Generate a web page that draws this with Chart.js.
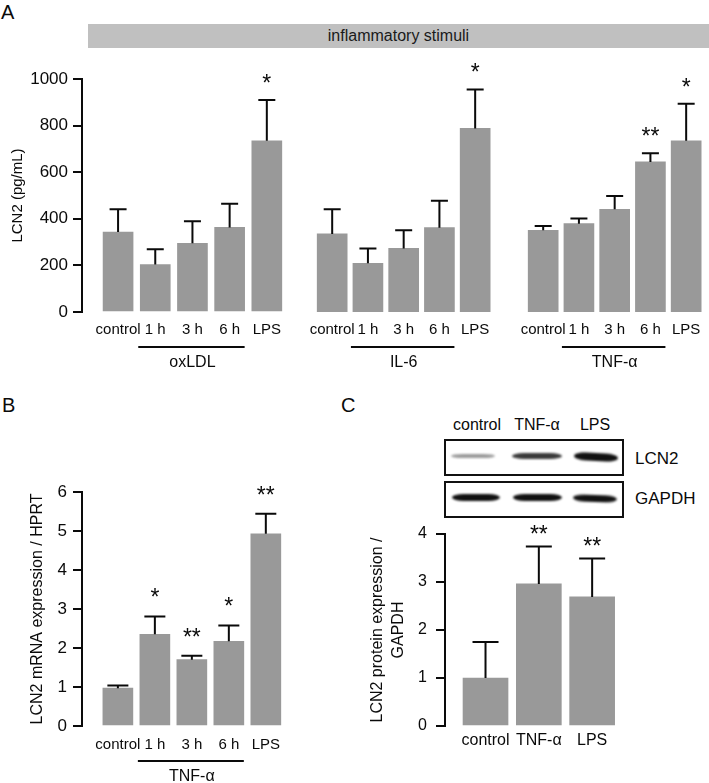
<!DOCTYPE html>
<html>
<head>
<meta charset="utf-8">
<script src="https://cdn.jsdelivr.net/npm/chart.js@4.4.0/dist/chart.umd.min.js"></script>
<style>
  body { margin: 0; background: #fff; }
  #fig { position: relative; width: 709px; height: 783px; overflow: hidden;
         font-family: "Liberation Sans", Arial, sans-serif; color: #0a0a0a; }
  canvas { position: absolute; }
  .t { position: absolute; white-space: nowrap; line-height: 1; }
  .c { transform: translate(-50%, -50%); }
  .m { transform: translateY(-50%); }
  .box { position: absolute; box-sizing: border-box; border: 2px solid #111; background: #fff; }
  .band { position: absolute; border-radius: 12px / 50%; filter: blur(0.8px); }
</style>
</head>
<body>
<div id="fig">
  <div class="t" style="left:1px;top:2px;font-size:20px">A</div>
  <div class="t" style="left:2px;top:395px;font-size:20px">B</div>
  <div class="t" style="left:341px;top:395px;font-size:20px">C</div>

  <div style="position:absolute;left:88px;top:24px;width:621px;height:24px;background:#c0c0c0;
              text-align:center;line-height:24px;font-size:16px;color:#1a1a1a">inflammatory stimuli</div>

  <canvas id="a1" width="290" height="380" style="left:0;top:0"></canvas>
  <canvas id="a2" width="198" height="380" style="left:300px;top:0"></canvas>
  <canvas id="a3" width="198" height="380" style="left:511px;top:0"></canvas>
  <canvas id="b" width="290" height="343" style="left:0;top:440px"></canvas>

  <!-- western blot -->
  <div id="lanes"></div>
  <div class="box" style="left:444px;top:439px;width:180px;height:37px"></div>
  <div class="box" style="left:444px;top:481px;width:180px;height:37px"></div>
  <div class="band" style="left:451px;top:454px;width:44px;height:4px;background:#9a9a9a"></div>
  <div class="band" style="left:512px;top:453px;width:50px;height:6px;background:#3a3a3a"></div>
  <div class="band" style="left:574px;top:453px;width:44px;height:8px;background:#111;transform:rotate(3deg)"></div>
  <div class="band" style="left:452px;top:494px;width:48px;height:7px;background:#111"></div>
  <div class="band" style="left:513px;top:494px;width:49px;height:7px;background:#111"></div>
  <div class="band" style="left:573px;top:495px;width:44px;height:7px;background:#111;transform:rotate(2deg)"></div>
  <div class="t m" style="left:635px;top:458px;font-size:17px">LCN2</div>
  <div class="t m" style="left:635px;top:498px;font-size:17px">GAPDH</div>

  <canvas id="c" width="270" height="283" style="left:360px;top:500px"></canvas>
</div>

<script>
// panel A: LCN2 secretion (pg/mL)
const timeLabels = ['control', '1 h', '3 h', '6 h', 'LPS'];
const stimuli = ['oxLDL', 'IL-6', 'TNF-α'];

const oxldlMean = [343, 204, 295, 363, 735];
const oxldlSd = [98, 65, 95, 102, 175];
const oxldlStars = ['', '', '', '', '*'];

const il6Mean = [335, 209, 273, 362, 788];
const il6Sd = [106, 64, 78, 116, 167];
const il6Stars = ['', '', '', '', '*'];

const tnfMean = [351, 379, 441, 644, 735];
const tnfSd = [18, 22, 57, 37, 159];
const tnfStars = ['', '', '', '**', '*'];

// panel B: mRNA / HPRT after TNF-α
const mrnaMean = [0.97, 2.35, 1.70, 2.17, 4.93];
const mrnaSd = [0.07, 0.46, 0.10, 0.41, 0.51];
const mrnaStars = ['', '*', '**', '*', '**'];

// panel C: protein / GAPDH
const proteinLabels = ['control', 'TNF-α', 'LPS'];
const proteinMean = [1.0, 2.96, 2.69];
const proteinSd = [0.75, 0.78, 0.80];
const proteinStars = ['', '**', '**'];

const FONT = '"Liberation Sans", Arial, sans-serif';
const INK = '#0a0a0a';
const BAR = '#999999';
Chart.defaults.font.family = FONT;
Chart.defaults.color = INK;

// blot lane headers
const laneX = [477, 537, 595];
document.getElementById('lanes').innerHTML = proteinLabels.map((l, i) =>
  `<div class="t c" style="left:${laneX[i]}px;top:425px;font-size:16px">${l}</div>`).join('');

// error bars, stars and the group underline
const markers = {
  id: 'markers',
  afterDatasetsDraw(chart, args, o) {
    const ctx = chart.ctx;
    const y = chart.scales.y;
    const area = chart.chartArea;
    const bars = chart.getDatasetMeta(0).data;
    const pts = chart.data.datasets[0].data;
    ctx.save();
    ctx.strokeStyle = INK;
    ctx.fillStyle = INK;
    ctx.lineWidth = 2;
    bars.forEach((bar, i) => {
      const top = y.getPixelForValue(pts[i].y + o.sd[i]);
      ctx.beginPath();
      ctx.moveTo(bar.x, bar.y);
      ctx.lineTo(bar.x, top);
      ctx.moveTo(bar.x - o.cap / 2, top);
      ctx.lineTo(bar.x + o.cap / 2, top);
      ctx.stroke();
      if (o.stars[i]) {
        ctx.font = o.starSize + 'px ' + FONT;
        ctx.textAlign = 'center';
        ctx.textBaseline = 'alphabetic';
        ctx.fillText(o.stars[i], bar.x, top - o.starGap);
      }
    });
    if (o.group) {
      const half = bars[1].width / 2;
      const ly = area.bottom + 35;
      ctx.beginPath();
      ctx.moveTo(bars[1].x - half - 2, ly);
      ctx.lineTo(bars[3].x + half, ly);
      ctx.stroke();
      ctx.font = '16px ' + FONT;
      ctx.textAlign = 'center';
      ctx.textBaseline = 'middle';
      ctx.fillText(o.group, bars[2].x, area.bottom + 51);
    }
    ctx.restore();
  }
};

function makeChart(id, p) {
  const yAxis = {
    display: !!p.yTitle,
    min: 0, max: p.yMax,
    ticks: { stepSize: p.yStep, padding: p.yPad || 0, font: { size: p.yFont }, color: INK,
             callback: v => String(v) },
    grid: { drawOnChartArea: false, drawTicks: true, tickLength: 9, lineWidth: 2, color: INK },
    border: { display: true, width: 2, color: INK }
  };
  if (p.yTitle) {
    yAxis.title = {
      display: true, text: p.yTitle, color: INK,
      font: { size: p.titleSize, lineHeight: p.titleLH },
      padding: { top: p.titlePad, bottom: 0 }
    };
    yAxis.afterFit = s => { s.width = p.yW; };
  }
  return new Chart(document.getElementById(id), {
    type: 'bar',
    data: {
      datasets: [{
        data: p.means.map((v, i) => ({ x: i, y: v })),
        backgroundColor: BAR,
        barThickness: p.barW
      }]
    },
    options: {
      responsive: false,
      animation: false,
      events: [],
      layout: { padding: { top: p.padTop, bottom: p.padBottom, left: p.padLeft || 0, right: 0 } },
      plugins: {
        legend: { display: false },
        tooltip: { enabled: false },
        markers: { sd: p.sd, stars: p.stars, cap: p.cap, starGap: p.starGap,
                   starSize: p.starSize || 23, group: p.group || null }
      },
      scales: {
        x: {
          type: 'linear', offset: false, min: p.xMin, max: p.xMax,
          grid: { display: false, drawTicks: false },
          border: { display: false },
          ticks: {
            stepSize: 1, autoSkip: false, includeBounds: false, maxRotation: 0,
            padding: p.xPad, font: { size: p.xFont }, color: INK,
            callback: v => p.labels[Math.round(v)] ?? ''
          },
          afterFit: s => { s.height = 33; }
        },
        y: yAxis
      }
    },
    plugins: [markers]
  });
}

const aCommon = { labels: timeLabels, yMax: 1000, yStep: 200, barW: 30, cap: 17,
                  starGap: 9, padTop: 79, padBottom: 35, xPad: 9, xFont: 15, yFont: 17 };

makeChart('a1', Object.assign({}, aCommon, {
  means: oxldlMean, sd: oxldlSd, stars: oxldlStars, group: stimuli[0],
  xMin: -0.97, xMax: 4.6, yW: 82, yPad: 5,
  yTitle: 'LCN2 (pg/mL)', titleSize: 15, titleLH: 1.2, titlePad: 8.5
}));
makeChart('a2', Object.assign({}, aCommon, {
  means: il6Mean, sd: il6Sd, stars: il6Stars, group: stimuli[1],
  xMin: -0.5, xMax: 4.52, padLeft: 11
}));
makeChart('a3', Object.assign({}, aCommon, {
  means: tnfMean, sd: tnfSd, stars: tnfStars, group: stimuli[2],
  xMin: -0.5, xMax: 4.52, padLeft: 11
}));

makeChart('b', {
  labels: timeLabels, means: mrnaMean, sd: mrnaSd, stars: mrnaStars, group: stimuli[2],
  yMax: 6, yStep: 1, barW: 30, cap: 21, starGap: 11, padTop: 52, padBottom: 24,
  xPad: 10, xFont: 15, yFont: 17, xMin: -0.97, xMax: 4.6, yW: 82, yPad: 6,
  yTitle: 'LCN2 mRNA expression / HPRT', titleSize: 16, titleLH: 1.2, titlePad: 28
});

makeChart('c', {
  labels: proteinLabels, means: proteinMean, sd: proteinSd, stars: proteinStars,
  yMax: 4, yStep: 1, barW: 45, cap: 26, starGap: 4, padTop: 34, padBottom: 24,
  xPad: 5, xFont: 16, yFont: 16, xMin: -0.76, xMax: 2.71, yW: 85, yPad: 9,
  yTitle: ['LCN2 protein expression /', 'GAPDH'], titleSize: 16, titleLH: 1.3, titlePad: 7.6
});
</script>
</body>
</html>
